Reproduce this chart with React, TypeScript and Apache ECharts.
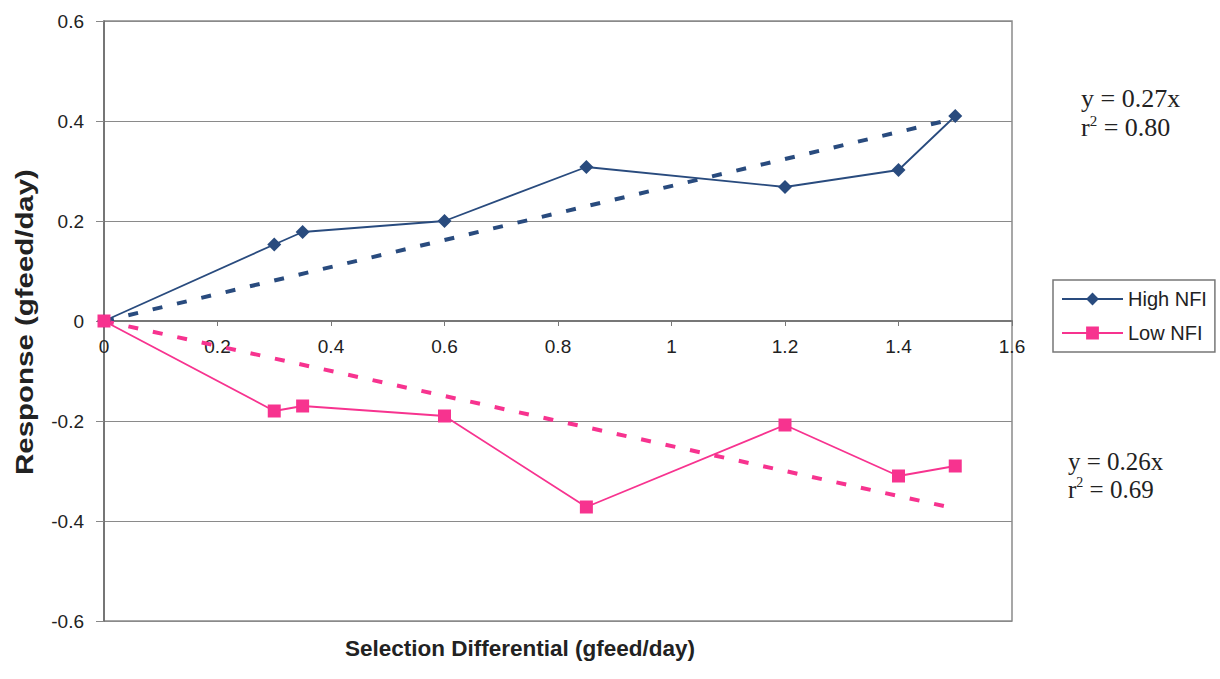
import React, { useEffect, useRef } from "react";
import * as echarts from "echarts";

const highX = [0, 0.3, 0.35, 0.6, 0.85, 1.2, 1.4, 1.5];
const highY = [0, 0.153, 0.178, 0.2, 0.308, 0.268, 0.302, 0.41];
const lowX = [0, 0.3, 0.35, 0.6, 0.85, 1.2, 1.4, 1.5];
const lowY = [0, -0.18, -0.17, -0.19, -0.372, -0.208, -0.31, -0.29];
const highTrend = [[0, 0], [1.5, 0.405]];
const lowTrend = [[0, 0], [1.5, -0.375]];
const highEq = { eq: "y = 0.27x", r2: "0.80" };
const lowEq = { eq: "y = 0.26x", r2: "0.69" };
const xTitle = "Selection Differential (gfeed/day)";
const yTitle = "Response (gfeed/day)";

const BLUE = "#294b7e";
const PINK = "#f7338f";
const SANS = "'Liberation Sans', Arial, sans-serif";
const SERIF = "'Liberation Serif', 'Times New Roman', serif";

function eqText(left: number, top: number, e: { eq: string; r2: string }, size: number) {
  return {
    type: "text",
    left,
    top,
    style: {
      text: e.eq + "\n{r|r}{s|2}{r| = " + e.r2 + "}",
      font: `${size}px ${SERIF}`,
      fill: "#222",
      lineHeight: size + 3,
      rich: {
        r: { fontSize: size, fontFamily: SERIF, fill: "#222", lineHeight: size + 3 },
        s: { fontSize: Math.round(size * 0.58), fontFamily: SERIF, fill: "#222", verticalAlign: "top" },
      },
    },
  };
}

export default function App() {
  const ref = useRef<HTMLDivElement>(null);
  useEffect(() => {
    if (!ref.current) return;
    const chart = echarts.init(ref.current, undefined, { renderer: "svg" });
    const fmt = (v: number) => String(Math.round(v * 10) / 10);
    chart.setOption({
      animation: false,
      backgroundColor: "#ffffff",
      grid: {
        left: 104,
        right: 208,
        top: 21,
        bottom: 58,
        show: true,
        borderColor: "#8a8a8a",
        borderWidth: 1.5,
      },
      xAxis: {
        type: "value",
        min: 0,
        max: 1.6,
        interval: 0.2,
        position: "bottom",
        offset: -300,
        axisLine: { onZero: false, lineStyle: { color: "#777", width: 2 } },
        axisTick: { show: true, length: 5, lineStyle: { color: "#777" } },
        axisLabel: {
          formatter: fmt,
          color: "#222",
          fontFamily: SANS,
          fontSize: 19,
          margin: 16,
        },
        splitLine: { show: false },
      },
      yAxis: {
        type: "value",
        min: -0.6,
        max: 0.6,
        interval: 0.2,
        axisLine: { show: true, onZero: false, lineStyle: { color: "#666", width: 1.5 } },
        axisTick: { show: true, length: 8, lineStyle: { color: "#888" } },
        axisLabel: {
          formatter: fmt,
          color: "#222",
          fontFamily: SANS,
          fontSize: 19,
          margin: 20,
        },
        splitLine: { show: true, lineStyle: { color: "#8a8a8a", width: 1.2 } },
      },
      legend: {
        data: ["High NFI", "Low NFI"],
        orient: "vertical",
        left: 1053,
        top: 280,
        itemWidth: 61,
        itemHeight: 16,
        itemGap: 14,
        padding: [9, 8, 9, 8],
        borderColor: "#777",
        borderWidth: 1.5,
        backgroundColor: "#fff",
        textStyle: {
          color: "#222",
          fontFamily: SANS,
          fontSize: 20,
          lineHeight: 20,
        },
      },
      graphic: [
        eqText(1081, 84, highEq, 26),
        eqText(1068, 447, lowEq, 25),
        {
          type: "text",
          x: 520,
          y: 648,
          style: {
            text: xTitle,
            font: `bold 22.5px ${SANS}`,
            fill: "#222",
            align: "center",
            verticalAlign: "middle",
          },
        },
        {
          type: "text",
          x: 25,
          y: 322,
          rotation: Math.PI / 2,
          scaleX: 1.28,
          style: {
            text: yTitle,
            font: `bold 23px ${SANS}`,
            fill: "#222",
            align: "center",
            verticalAlign: "middle",
          },
        },
      ],
      series: [
        {
          name: "High NFI trend",
          type: "line",
          data: highTrend,
          symbol: "none",
          lineStyle: { color: BLUE, width: 4, type: [10, 15] },
          z: 1,
        },
        {
          name: "Low NFI trend",
          type: "line",
          data: lowTrend,
          symbol: "none",
          lineStyle: { color: PINK, width: 4, type: [10, 15] },
          z: 1,
        },
        {
          name: "High NFI",
          type: "line",
          data: highX.map((x, i) => [x, highY[i]]),
          symbol: "diamond",
          symbolSize: 14,
          itemStyle: { color: BLUE },
          lineStyle: { color: BLUE, width: 1.8 },
          z: 3,
        },
        {
          name: "Low NFI",
          type: "line",
          data: lowX.map((x, i) => [x, lowY[i]]),
          symbol: "rect",
          symbolSize: 13,
          itemStyle: { color: PINK },
          lineStyle: { color: PINK, width: 1.8 },
          z: 3,
        },
      ],
    });
    return () => chart.dispose();
  }, []);
  return (
    <div
      ref={ref}
      style={{ position: "absolute", left: 0, top: 0, width: 1220, height: 679 }}
    />
  );
}
